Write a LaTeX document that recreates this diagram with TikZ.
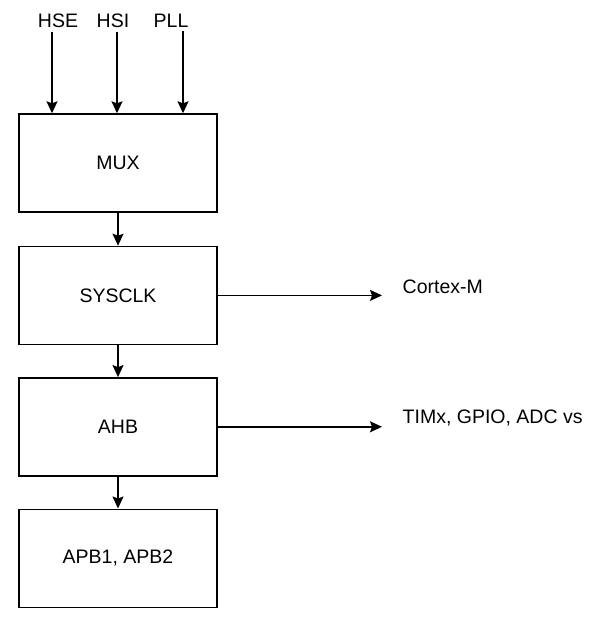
\documentclass[tikz,border=0pt]{standalone}
\usepackage{fontspec}
\setmainfont{Liberation Sans}
\usetikzlibrary{arrows.meta,positioning,calc}

\begin{document}
\begin{tikzpicture}[x=1pt, y=-1pt, >={Stealth[length=12pt,width=11pt,inset=2pt]},
    line width=1.4pt, node distance=32pt,
    font=\fontsize{19.5}{23}\selectfont,
    block/.style={draw, rectangle, minimum width=198pt, minimum height=98pt,
        inner sep=0pt, line width=1.4pt},
    lbl/.style={inner sep=0pt, anchor=west}]
    \useasboundingbox (0,0) rectangle (596,618);
    \node [block] at (118,163)                 (mux) {MUX};
    \node [block] [below=33pt of mux]           (sys) {SYSCLK};
    \node [block] [below=of sys]                (ahb) {AHB};
    \node [block] [below=of ahb]                (apb) {APB1, APB2};
    % clock sources
    \node [inner sep=0pt] at (58,21)            (hse) {HSE};
    \node [inner sep=0pt] at (113,21)           (hsi) {HSI};
    \node [inner sep=0pt] at (171,21)           (pll) {PLL};
    \coordinate (in1) at (mux.north -| 52,0);
    \coordinate (in2) at (mux.north -| 117,0);
    \coordinate (in3) at (mux.north -| 183,0);
    % outputs
    \node [lbl] at (402,287)                    (cpu) {Cortex-M};
    \node [lbl] at (402,418)                    (per) {TIMx, GPIO, ADC vs};
    \coordinate (out1) at (382,0 |- sys.east);
    \coordinate (out2) at (382,0 |- ahb.east);
    \path[->] ($(hse.south -| in1)+(0,3)$) edge (in1)
              ($(hsi.south -| in2)+(0,3)$) edge (in2)
              ($(pll.south -| in3)+(0,3)$) edge (in3)
              (mux) edge (sys)
              (sys) edge (ahb)
              (ahb) edge (apb)
              (sys.east) edge (out1)
              (ahb.east) edge (out2);
\end{tikzpicture}
\end{document}
